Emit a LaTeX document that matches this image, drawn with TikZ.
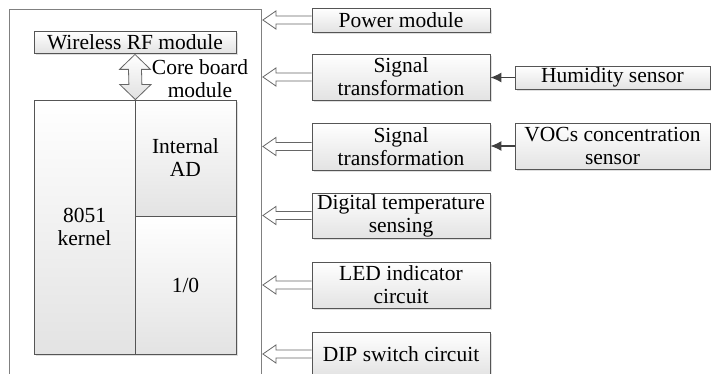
\documentclass[tikz,border=0pt]{standalone}
\usepackage{fontspec}
\setmainfont{Liberation Serif}
\newfontfamily\diagfont{Liberation Serif}
\usetikzlibrary{shadows,calc,arrows.meta}
\definecolor{boxline}{HTML}{555555}
\definecolor{outline}{HTML}{808080}
\definecolor{arrline}{HTML}{666666}
\tikzset{
  blk/.style={draw=boxline, line width=0.8pt, top color=white, bottom color=black!11,
    drop shadow={shadow xshift=1.6pt, shadow yshift=-1.6pt, opacity=0.25},
    inner sep=0pt, align=center, font=\diagfont\fontsize{21.5}{23}\selectfont},
  lbl/.style={inner sep=0pt, align=center, font=\diagfont\fontsize{21.5}{23}\selectfont},
  harrow/.style={draw=arrline, line width=0.8pt, fill=white, line join=miter},
  darr/.style={draw=arrline, line width=0.8pt, top color=white, bottom color=black!12},
  sarrow/.style={draw=black!75, line width=1.2pt, -{Latex[length=11pt,width=10pt]}}
}
\newcommand\hollowarr[1]{%
  \coordinate (t#1) at ([xshift=1.5pt]core.east |- #1.west);
  \draw[harrow] ([yshift=-4pt]#1.west) -- ([shift={(13pt,-4pt)}]t#1) -- ([shift={(13pt,-9pt)}]t#1)
    -- (t#1) -- ([shift={(13pt,9pt)}]t#1) -- ([shift={(13pt,4pt)}]t#1) -- ([yshift=4pt]#1.west);
}
\begin{document}
\begin{tikzpicture}[x=1pt,y=-1pt]
\useasboundingbox[fill=white] (0,0) rectangle (711,374);
% outer core board container
\node[draw=outline, line width=0.8pt, minimum width=252pt, minimum height=372pt, inner sep=0pt] (core) at (135,195) {};
% inner blocks
\node[blk, minimum width=202pt, minimum height=22pt] (rf) at (135,42) {Wireless RF module};
\node[blk, minimum width=101pt, minimum height=254pt] (kernel) at (84.5,227) {8051\\kernel};
\node[blk, minimum width=101pt, minimum height=116pt] (ad) at (185.5,158) {Internal\\AD};
\node[blk, minimum width=101pt, minimum height=138pt] (io) at (185.5,285) {1/0};
\node[lbl] (cbm) at (200,79) {Core board\\module};
% double arrow between RF module and kernel
\coordinate (da) at ([yshift=-1pt]rf.south);
\coordinate (db) at (kernel.north east);
\draw[darr] (da) -- ($(da)+(15.5,15)$) -- ($(da)+(6.5,15)$) -- ($(db)+(6.5,-15)$) -- ($(db)+(15.5,-15)$)
  -- (db) -- ($(db)+(-15.5,-15)$) -- ($(db)+(-6.5,-15)$) -- ($(da)+(-6.5,15)$) -- ($(da)+(-15.5,15)$) -- cycle;
% right side modules
\node[blk, minimum width=178pt, minimum height=24pt] (power) at (401,20) {Power module};
\node[blk, minimum width=178pt, minimum height=46pt] (sig1) at (401,77) {Signal\\transformation};
\node[blk, minimum width=195pt, minimum height=23pt] (hum) at (612.5,77.5) {Humidity sensor};
\node[blk, minimum width=178pt, minimum height=47pt] (sig2) at (401,146.5) {Signal\\transformation};
\node[blk, minimum width=195pt, minimum height=46pt] (voc) at (612.5,146) {VOCs concentration\\sensor};
\node[blk, minimum width=178pt, minimum height=45pt] (dig) at (401,215.5) {Digital temperature\\sensing};
\node[blk, minimum width=178pt, minimum height=46pt] (led) at (401,285) {LED indicator\\circuit};
\node[blk, minimum width=178pt, minimum height=44pt] (dip) at (401,354) {DIP switch circuit};
% hollow arrows into the core board
\hollowarr{power}
\hollowarr{sig1}
\hollowarr{sig2}
\hollowarr{dig}
\hollowarr{led}
\hollowarr{dip}
% sensor arrows
\draw[sarrow] (hum.west) -- (sig1.east |- hum.west);
\draw[sarrow] (voc.west) -- (sig2.east |- voc.west);
\end{tikzpicture}
\end{document}
